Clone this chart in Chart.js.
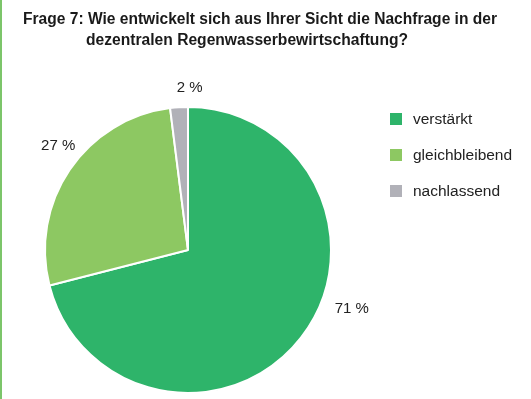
<!DOCTYPE html>
<html>
<head>
<meta charset="utf-8">
<script src="https://cdn.jsdelivr.net/npm/chart.js@4"></script>
<style>
  html, body { margin: 0; padding: 0; background: #fff; }
  #wrap { position: relative; width: 531px; height: 399px; }
  #leftbar { position: absolute; left: 0; top: 0; width: 2px; height: 399px; background: #7cc56a; }
  canvas { display: block; }
</style>
</head>
<body>
<div id="wrap">
  <canvas id="c" width="531" height="399"></canvas>
  <div id="leftbar"></div>
</div>
<script>
const titleLines = [
  "Frage 7: Wie entwickelt sich aus Ihrer Sicht die Nachfrage in der",
  "dezentralen Regenwasserbewirtschaftung?"
];
const categories = ["verstärkt", "gleichbleibend", "nachlassend"];
const values = [71, 27, 2];
const valueLabels = ["71 %", "27 %", "2 %"];
const colors = ["#2eb46a", "#8dc862", "#b1b1b8"];

// style: label tweaks relative to radial placement
const labelTweak = [[35, -41], [5, -13], [12, 1]];

const overlay = {
  id: 'overlay',
  afterDraw(chart) {
    const ctx = chart.ctx;
    ctx.save();
    // title
    ctx.fillStyle = '#1a1a1a';
    ctx.font = 'bold 16px "Liberation Sans", Arial, sans-serif';
    ctx.textBaseline = 'alphabetic';
    ctx.textAlign = 'left';
    ctx.fillText(titleLines[0], 23, 24, 474);
    ctx.fillText(titleLines[1], 86, 45, 322);

    // value labels
    const meta = chart.getDatasetMeta(0);
    ctx.font = '15px "Liberation Sans", Arial, sans-serif';
    ctx.fillStyle = '#222';
    ctx.textAlign = 'center';
    ctx.textBaseline = 'middle';
    meta.data.forEach((arc, i) => {
      const mid = (arc.startAngle + arc.endAngle) / 2;
      const r = arc.outerRadius + 20;
      const x = arc.x + Math.cos(mid) * r + labelTweak[i][0];
      const y = arc.y + Math.sin(mid) * r + labelTweak[i][1];
      ctx.fillText(valueLabels[i], x, y);
    });

    // legend
    ctx.textAlign = 'left';
    ctx.font = '15.5px "Liberation Sans", Arial, sans-serif';
    categories.forEach((cat, i) => {
      const cy = 119 + i * 36;
      ctx.fillStyle = colors[i];
      ctx.fillRect(390, cy - 6, 12, 12);
      ctx.fillStyle = '#222';
      ctx.fillText(cat, 413, cy + 1);
    });
    ctx.restore();
  }
};

new Chart(document.getElementById('c'), {
  type: 'pie',
  data: {
    labels: categories,
    datasets: [{
      data: values,
      backgroundColor: colors,
      borderColor: '#ffffff',
      borderWidth: 2
    }]
  },
  options: {
    responsive: false,
    animation: false,
    layout: { padding: { top: 106, bottom: 5, left: 44, right: 199 } },
    plugins: {
      legend: { display: false },
      title: { display: false },
      tooltip: { enabled: false }
    }
  },
  plugins: [overlay]
});
</script>
</body>
</html>
